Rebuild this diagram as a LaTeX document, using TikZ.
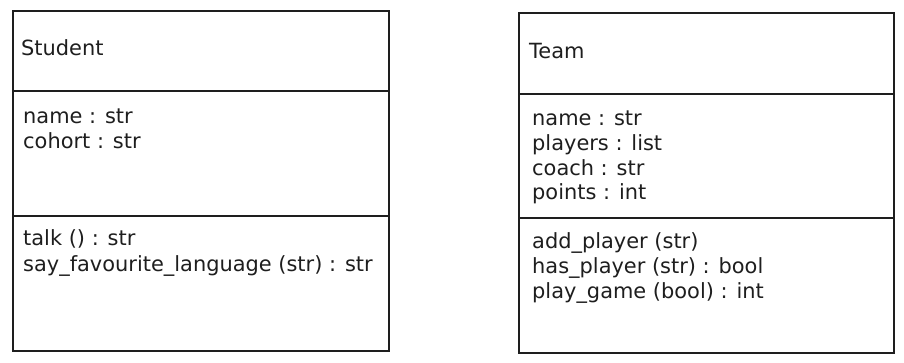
\documentclass[tikz,border=0pt]{standalone}
\usepackage{fontspec}
\setmainfont{DejaVu Sans}
\definecolor{ink}{HTML}{1E1E1E}
\begin{document}
\begin{tikzpicture}[x=1bp,y=-1bp,
  compart/.style={draw=ink, line width=1.5bp, anchor=north west, inner sep=0pt, minimum width=#1},
  member/.style={anchor=base west, inner sep=0pt, text=ink, font=\fontsize{21}{25}\selectfont}]
\useasboundingbox (0,0) rectangle (904,362);
\fill[white] (0,0) rectangle (904,362);

% Student class compartments
\node[compart=376bp, minimum height=80bp]  (stuHead)  at (12,10)  {};
\node[compart=376bp, minimum height=125bp] (stuAttr)  at (12,90)  {};
\node[compart=376bp, minimum height=135bp] (stuOps)   at (12,215) {};

\node[member] (stuName)  at (21,55)  {Student};
\node[member] (stuA1)    at (23,123) {name : str};
\node[member] (stuA2)    at (23,148) {cohort : str};
\node[member] (stuO1)    at (23,245) {talk () : str};
\node[member] (stuO2)    at (23,271) {say\_favourite\_language (str) : str};

% Team class compartments
\node[compart=375bp, minimum height=81bp]  (teamHead) at (518,12)  {};
\node[compart=375bp, minimum height=124bp] (teamAttr) at (518,93)  {};
\node[compart=375bp, minimum height=135bp] (teamOps)  at (518,217) {};

\node[member] (teamName) at (529,58)  {Team};
\node[member] (teamA1)   at (532,125) {name : str};
\node[member] (teamA2)   at (532,150) {players : list};
\node[member] (teamA3)   at (532,175) {coach : str};
\node[member] (teamA4)   at (532,199) {points : int};
\node[member] (teamO1)   at (532,248) {add\_player (str)};
\node[member] (teamO2)   at (532,273) {has\_player (str) : bool};
\node[member] (teamO3)   at (532,298) {play\_game (bool) : int};
\end{tikzpicture}
\end{document}
